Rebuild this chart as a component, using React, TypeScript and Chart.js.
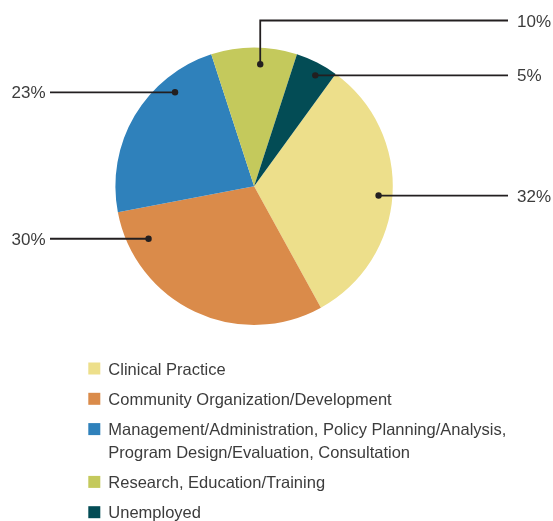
import React, { useEffect, useRef } from 'react';
import { Chart, PieController, ArcElement } from 'chart.js';

Chart.register(PieController, ArcElement);

// ---- data ----
const categories: string[][] = [
  ['Clinical Practice'],
  ['Community Organization/Development'],
  ['Management/Administration, Policy Planning/Analysis,', 'Program Design/Evaluation, Consultation'],
  ['Research, Education/Training'],
  ['Unemployed'],
];
const values: number[] = [32, 30, 23, 10, 5];
const colors: string[] = ['#EDDF8B', '#DA8B4A', '#2F81BB', '#C4C95C', '#034C55'];

// ---- callout styling (where the dot sits inside each slice, and which side the label goes) ----
const calloutAngleFrac: number[] = [0.506, 0.855, 0.733, 0.58, 0.605];
const calloutRadiusFrac: number[] = [0.9, 0.85, 0.885, 0.88, 0.913];
const calloutSide: string[] = ['right', 'left', 'left', 'right', 'right'];
const calloutElbowY: (number | null)[] = [null, null, null, 20.5, null];

const RIGHT_LINE_X = 508;
const RIGHT_TEXT_X = 517;
const LEFT_LINE_X = 50;
const LEFT_TEXT_X = 45.5;
const LABEL_FONT = '17px "Liberation Sans", Arial, sans-serif';
const LEGEND_FONT = '16.5px "Liberation Sans", Arial, sans-serif';
const TEXT_COLOR = '#3c3c3c';
const LINE_COLOR = '#231f20';
const CAP = 6.1;

const LEGEND_BOX_X = 88.3;
const LEGEND_TEXT_X = 108.3;
const LEGEND_START_Y = 368.5;
const LEGEND_ROW_GAP = 30.3;
const LEGEND_LINE_GAP = 22.5;

const calloutPlugin = {
  id: 'callouts',
  afterDatasetsDraw(chart: any) {
    const ctx: CanvasRenderingContext2D = chart.ctx;
    const meta = chart.getDatasetMeta(0);
    ctx.save();
    ctx.font = LABEL_FONT;
    meta.data.forEach((arc: any, i: number) => {
      const { x, y, startAngle, endAngle, outerRadius } = arc.getProps(
        ['x', 'y', 'startAngle', 'endAngle', 'outerRadius'],
        true
      );
      const a = startAngle + calloutAngleFrac[i] * (endAngle - startAngle);
      const r = outerRadius * calloutRadiusFrac[i];
      const px = x + r * Math.cos(a);
      const py = y + r * Math.sin(a);
      const right = calloutSide[i] === 'right';
      const ly = calloutElbowY[i] ?? py;
      const endX = right ? RIGHT_LINE_X : LEFT_LINE_X;

      ctx.strokeStyle = LINE_COLOR;
      ctx.lineWidth = 1.8;
      ctx.beginPath();
      ctx.moveTo(px, py);
      if (calloutElbowY[i] !== null) ctx.lineTo(px, ly);
      ctx.lineTo(endX, ly);
      ctx.stroke();

      ctx.fillStyle = LINE_COLOR;
      ctx.beginPath();
      ctx.arc(px, py, 3.2, 0, Math.PI * 2);
      ctx.fill();

      ctx.fillStyle = TEXT_COLOR;
      ctx.textBaseline = 'alphabetic';
      ctx.textAlign = right ? 'left' : 'right';
      ctx.fillText(`${values[i]}%`, right ? RIGHT_TEXT_X : LEFT_TEXT_X, ly + CAP);
    });

    // legend
    ctx.font = LEGEND_FONT;
    let yy = LEGEND_START_Y;
    ctx.textAlign = 'left';
    categories.forEach((lines, i) => {
      ctx.fillStyle = colors[i];
      ctx.fillRect(LEGEND_BOX_X, yy - 6, 12, 12);
      ctx.fillStyle = TEXT_COLOR;
      lines.forEach((t, k) => {
        ctx.fillText(t, LEGEND_TEXT_X, yy + k * LEGEND_LINE_GAP + CAP);
      });
      yy += LEGEND_ROW_GAP + (lines.length - 1) * LEGEND_LINE_GAP;
    });
    ctx.restore();
  },
};

export default function App() {
  const ref = useRef<HTMLCanvasElement>(null);
  useEffect(() => {
    if (!ref.current) return;
    const chart = new Chart(ref.current, {
      type: 'pie',
      data: {
        labels: categories.map((l) => l.join(' ')),
        datasets: [
          {
            data: values,
            backgroundColor: colors,
            borderWidth: 0,
            hoverBorderWidth: 0,
            hoverOffset: 0,
          },
        ],
      },
      options: {
        animation: false,
        responsive: true,
        maintainAspectRatio: false,
        events: [],
        rotation: 36,
        layout: { padding: { left: 115.4, top: 47.5, right: 160.2, bottom: 196.1 } },
        plugins: { legend: { display: false }, tooltip: { enabled: false } },
      },
      plugins: [calloutPlugin],
    } as any);
    return () => chart.destroy();
  }, []);
  return (
    <div style={{ position: 'fixed', left: 0, top: 0, width: 553, height: 521, background: '#fff' }}>
      <canvas ref={ref} />
    </div>
  );
}
